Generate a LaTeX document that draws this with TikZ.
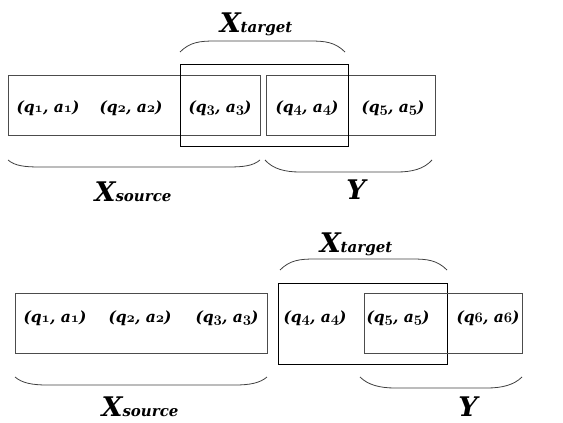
\documentclass[tikz,border=0pt]{standalone}
\usepackage{fontspec}
\setmainfont{DejaVu Serif}
\newcommand\osn[1]{\raisebox{-0.5pt}{{\fontencoding{OML}\fontfamily{cmm}\fontseries{b}\fontshape{it}\selectfont #1}}}
\newcommand\qa[1]{(q\osn{#1}, a\osn{#1})}
\newcommand\bigX[1]{{\fontsize{27}{27}\selectfont X}{\fontsize{15}{15}\selectfont #1}}
\begin{document}
\begin{tikzpicture}[x=1pt,y=-1pt,
  box/.style={draw=black!70,line width=0.8pt,inner sep=0pt},
  tbox/.style={draw=black,line width=0.8pt,inner sep=0pt},
  brace/.style={draw=black!75,line width=0.8pt},
  pair/.style={font=\bfseries\itshape\fontsize{15.5}{15.5}\selectfont,inner sep=0pt},
  lab/.style={font=\bfseries\itshape,inner sep=0pt}]
\useasboundingbox (0,0) rectangle (563,423);
% ---------- top ----------
\node[box,minimum width=252pt,minimum height=60pt] (s1) at (134,105) {};
\node[box,minimum width=169pt,minimum height=60pt] (y1) at (350.5,105) {};
\node[tbox,minimum width=168pt,minimum height=82pt] (t1) at (264,105) {};
\node[pair] (a11) at (48,108) {\qa{1}};
\node[pair] (a12) at (131,108) {\qa{2}};
\node[pair] (a13) at (220,108) {\qa{3}};
\node[pair] (a14) at (307,108) {\qa{4}};
\node[pair] (a15) at (393,108) {\qa{5}};
\draw[brace] (180,52) .. controls (190,42) and (200,41) .. (215,41) -- (310,41) .. controls (325,41) and (335,42) .. (345,52);
\draw[brace] (8,160) .. controls (15,166) and (25,167) .. (40,167) -- (228,167) .. controls (243,167) and (253,166) .. (260,160);
\draw[brace] (265,160) .. controls (273,169) and (285,172) .. (300,172) -- (397,172) .. controls (412,172) and (424,169) .. (432,160);
\node[lab] (xt1) at (256,24) {\bigX{target}};
\node[lab] (xs1) at (133,192) {\bigX{source}};
\node[lab] (yy1) at (356,190) {\fontsize{27}{27}\selectfont Y};
% ---------- bottom ----------
\node[box,minimum width=252pt,minimum height=60pt] (s2) at (141,323) {};
\node[tbox,minimum width=169pt,minimum height=81pt] (t2) at (362.5,323.5) {};
\node[box,minimum width=158pt,minimum height=60pt] (y2) at (443,323) {};
\node[pair] (a21) at (55,318) {\qa{1}};
\node[pair] (a22) at (140,318) {\qa{2}};
\node[pair] (a23) at (227,318) {\qa{3}};
\node[pair] (a24) at (315,318) {\qa{4}};
\node[pair] (a25) at (398,318) {\qa{5}};
\node[pair] (a26) at (488,318) {\qa{6}};
\draw[brace] (280,270) .. controls (290,260) and (300,259) .. (315,259) -- (412,259) .. controls (427,259) and (437,260) .. (447,270);
\draw[brace] (15,377) .. controls (22,383) and (32,385) .. (47,385) -- (235,385) .. controls (250,385) and (260,383) .. (267,377);
\draw[brace] (360,377) .. controls (368,385) and (380,388) .. (395,388) -- (487,388) .. controls (502,388) and (514,385) .. (522,377);
\node[lab] (xt2) at (356,244) {\bigX{target}};
\node[lab] (xs2) at (140,407) {\bigX{source}};
\node[lab] (yy2) at (468,407) {\fontsize{27}{27}\selectfont Y};
\end{tikzpicture}
\end{document}
